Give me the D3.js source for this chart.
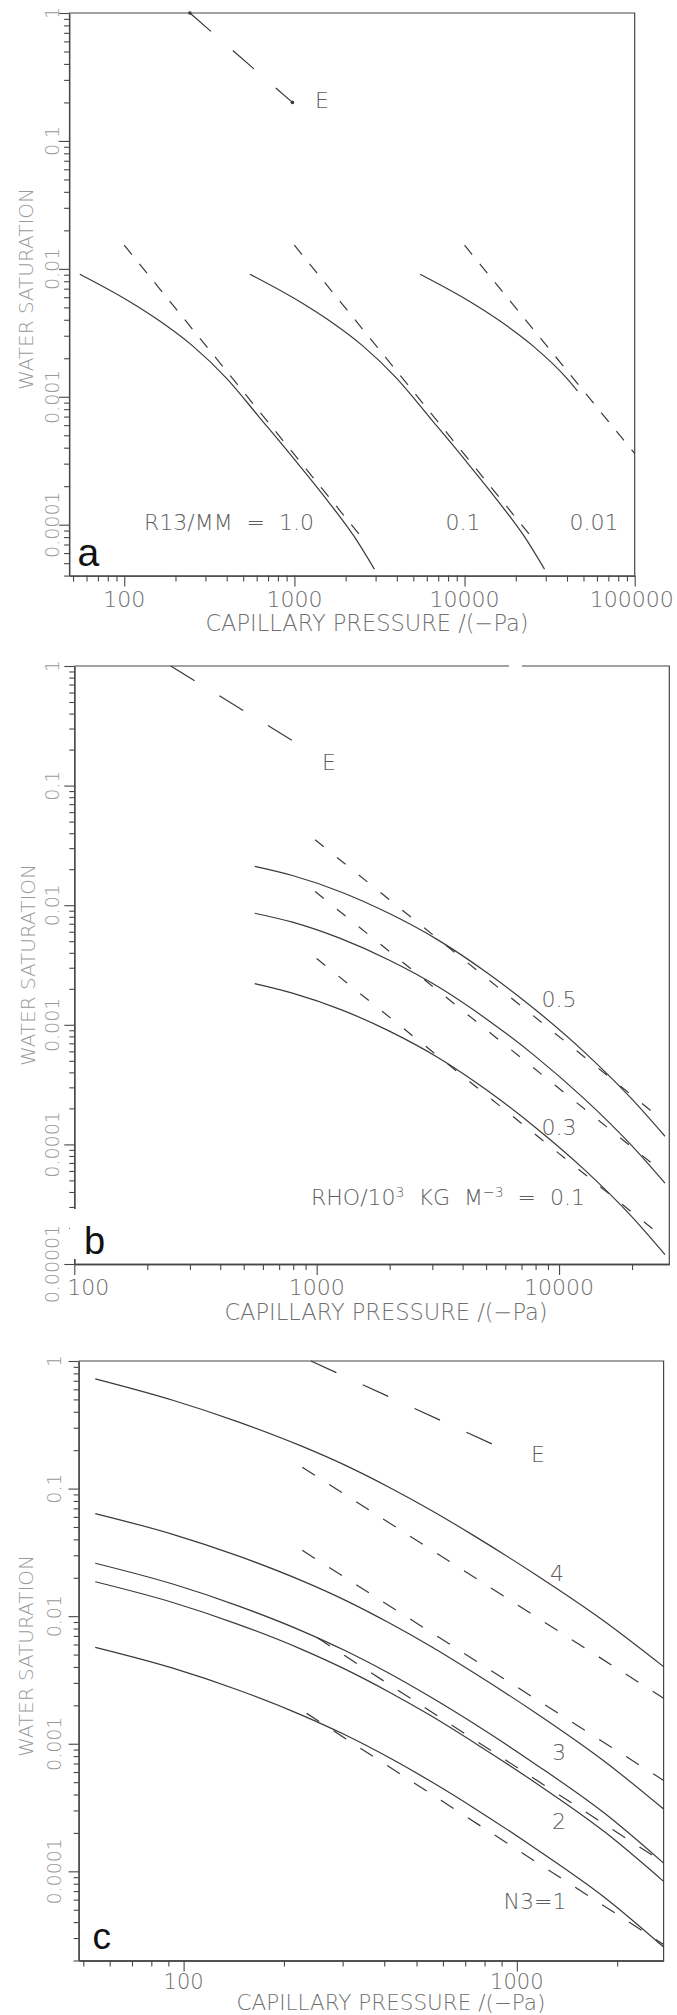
<!DOCTYPE html>
<html><head><meta charset="utf-8">
<script src="https://cdn.jsdelivr.net/npm/d3@7/dist/d3.min.js"></script>
<style>
body{margin:0;background:#fff}
svg{display:block}
text{font-family:"DejaVu Sans","Liberation Sans",sans-serif;font-weight:200}
</style></head><body>
<svg id="chart" width="677" height="2015"></svg>
<script>
// ---------- DATA ----------
// axis ranges
const X_DOMAIN_A = [47.4, 100000], Y_DOMAIN_A = [4e-5, 1];
const X_DOMAIN_B = [100, 28500],   Y_DOMAIN_B = [1e-5, 1];
const X_DOMAIN_C = [48.4, 2757],   Y_DOMAIN_C = [2e-5, 1];
// tick labels
const X_TICKS_A = [100, 1000, 10000, 100000], X_LABELS_A = ["100","1000","10000","100000"];
const X_TICKS_B = [100, 1000, 10000],         X_LABELS_B = ["100","1000","10000"];
const X_TICKS_C = [100, 1000],                X_LABELS_C = ["100","1000"];
const Y_TICKS_A = [1, 0.1, 0.01, 0.001, 0.0001],          Y_LABELS_A = ["1","0.1","0.01","0.001","0.0001"];
const Y_TICKS_B = [1, 0.1, 0.01, 0.001, 0.0001, 0.00001], Y_LABELS_B = ["1","0.1","0.01","0.001","0.0001","0.00001"];
const Y_TICKS_C = [1, 0.1, 0.01, 0.001, 0.0001],          Y_LABELS_C = ["1","0.1","0.01","0.001","0.0001"];

// panel a : R13/MM = 1.0, 0.1, 0.01
const A_SOLID_10  = [[54.8,0.00908],[107.2,0.00556],[158.5,0.00398],[251.2,0.00251],[398.1,0.0014],[631,0.000676],[1000,0.000324],[1585,0.000151],[2239,8.13e-5],[2951,4.49e-5]];
const A_SOLID_01  = [[548,0.00908],[1072,0.00556],[1585,0.00398],[2512,0.00251],[3981,0.0014],[6310,0.000676],[10000,0.000324],[15850,0.000151],[22390,8.13e-5],[29510,4.49e-5]];
const A_SOLID_001 = [[5480,0.00908],[10720,0.00556],[15850,0.00398],[25120,0.00251],[39810,0.0014],[46100,0.00111]];
const A_DASH_10   = [[100,0.0153],[2620,7.3e-5]];
const A_DASH_01   = [[1000,0.0153],[26200,7.3e-5]];
const A_DASH_001  = [[10000,0.0153],[100000,0.00036]];
const A_E         = [[243,1],[973,0.2]];

// panel b : RHO = 0.5, 0.3, 0.1
const B_X        = [555, 794, 1259, 1995, 3162, 5012, 7943, 12590, 19950, 27350];
const B_SOLID_05 = [0.0211, 0.0177, 0.0129, 0.00851, 0.00513, 0.00275, 0.00135, 0.000603, 0.00024, 0.000117];
const B_SOLID_03 = [0.00857, 0.00721, 0.00525, 0.00347, 0.00209, 0.00112, 0.00055, 0.000245, 9.77e-5, 4.75e-5];
const B_SOLID_01 = [0.00221, 0.00184, 0.00134, 0.000885, 0.000533, 0.000286, 0.00014, 6.27e-5, 2.49e-5, 1.2e-5];
const B_DASH_05  = [[986,0.0352],[26800,0.000159]];
const B_DASH_03  = [[986,0.013],[26800,5.86e-5]];
const B_DASH_01  = [[1000,0.00358],[26800,1.68e-5]];
const B_E        = [[250,1],[836,0.223]];

// panel c : N3 = 4, 3, 2, 1
const C_X = [54.3, 92.8, 145, 227, 306, 412, 556, 749, 1137, 1834, 2757];
const C_SOLID_1 = [0.724, 0.492, 0.335, 0.214, 0.152, 0.103, 0.0671, 0.0422, 0.0212, 0.00908, 0.00402];
const C_SOLID_2 = [0.0637, 0.0438, 0.0298, 0.0189, 0.0133, 0.00891, 0.00573, 0.00355, 0.00175, 0.000726, 0.000308];
const C_SOLID_3 = [0.026, 0.01786, 0.0121, 0.00764, 0.00535, 0.00358, 0.00229, 0.00142, 0.000692, 0.000285, 0.000116];
const C_SOLID_4 = [0.0186, 0.0128, 0.00867, 0.00547, 0.00383, 0.00256, 0.00164, 0.00101, 0.000495, 0.000204, 8.34e-5];
const C_SOLID_5 = [0.00569, 0.00391, 0.00265, 0.00167, 0.00117, 0.000783, 0.000501, 0.00031, 0.000151, 6.24e-5, 2.55e-5];
const C_DASH_A = [[227,0.147],[2757,0.00227]];
const C_DASH_B = [[227,0.0328],[2757,0.000516]];
const C_DASH_C = [[252,0.00676],[2757,0.000117]];
const C_DASH_D = [[234,0.00173],[2757,2.67e-5]];
const C_E      = [[241,1],[896,0.208]];

// ---------- DRAWING ----------
const svg = d3.select("#chart");
const INK = "#3a3a3a", AX = "#474747";
const isMajor = v => Math.abs(Math.log10(v) - Math.round(Math.log10(v))) < 1e-9;
const zipXY = (xs, ys) => xs.map((xv, i) => [xv, ys[i]]);

function panel(cfg) {
  const x = d3.scaleLog().domain(cfg.xDomain).range([cfg.left, cfg.right]);
  const y = d3.scaleLog().domain(cfg.yDomain).range([cfg.bottom, cfg.top]);
  const g = svg.append("g");

  g.append("path")
    .attr("d", `M${cfg.left},${cfg.top}H${cfg.right}V${cfg.bottom}`)
    .attr("fill", "none").attr("stroke", AX).attr("stroke-width", 1.2);

  const style = sel => {
    sel.selectAll("path.domain").attr("stroke", AX).attr("stroke-width", 1.3);
    sel.selectAll(".tick line").attr("stroke", AX).attr("stroke-width", 1.1);
    sel.selectAll("text").remove();
  };
  const xMinor = x.ticks().filter(v => !isMajor(v));
  const yMinor = y.ticks().filter(v => !isMajor(v));
  g.append("g").attr("transform", `translate(0,${cfg.bottom})`)
    .call(d3.axisBottom(x).tickValues(xMinor).tickSize(6).tickSizeOuter(0).tickFormat(""))
    .call(style);
  g.append("g").attr("transform", `translate(0,${cfg.bottom})`)
    .call(d3.axisBottom(x).tickValues(cfg.xTicks).tickSize(11).tickSizeOuter(0).tickFormat(""))
    .call(style);
  g.append("g").attr("transform", `translate(${cfg.left},0)`)
    .call(d3.axisLeft(y).tickValues(yMinor).tickSize(5).tickSizeOuter(0).tickFormat(""))
    .call(style);
  g.append("g").attr("transform", `translate(${cfg.left},0)`)
    .call(d3.axisLeft(y).tickValues(cfg.yTicks).tickSize(10).tickSizeOuter(0).tickFormat(""))
    .call(style);

  cfg.xTicks.forEach((v, i) => {
    g.append("text").attr("x", x(v) + (cfg.xShift ? cfg.xShift[i] : 0)).attr("y", cfg.xLabelY)
      .attr("text-anchor", "middle").attr("font-size", cfg.xTickSize || 22).attr("fill", "#6c6c6c")
      .text(cfg.xLabels[i]);
  });
  cfg.yTicks.forEach((v, i) => {
    g.append("text").attr("transform", `translate(${cfg.yLabelX},${y(v)}) rotate(-90)`)
      .attr("dy", "0.36em").attr("text-anchor", "middle").attr("font-size", 19).attr("fill", "#999")
      .text(cfg.yLabels[i]);
  });
  g.append("text").attr("x", cfg.xTitle[0]).attr("y", cfg.xTitle[1])
    .attr("text-anchor", "middle").attr("font-size", cfg.xTitleSize || 23).attr("fill", "#707070")
    .text("CAPILLARY PRESSURE /(\u2212Pa)");
  g.append("text").attr("transform", `translate(${cfg.yTitle[0]},${cfg.yTitle[1]}) rotate(-90)`)
    .attr("dy", "0.36em").attr("text-anchor", "middle").attr("font-size", 20).attr("fill", "#999")
    .text("WATER SATURATION");

  const smooth = d3.line().x(d => x(d[0])).y(d => y(d[1])).curve(d3.curveMonotoneX);
  const straight = d3.line().x(d => x(d[0])).y(d => y(d[1]));
  cfg.solids.forEach(s => g.append("path").attr("d", smooth(s)).attr("fill", "none")
    .attr("stroke", INK).attr("stroke-width", 1.2));
  cfg.dashes.forEach(s => g.append("path").attr("d", straight(s)).attr("fill", "none")
    .attr("stroke", INK).attr("stroke-width", 1.2).attr("stroke-dasharray", cfg.dash));
  g.append("path").attr("d", straight(cfg.e)).attr("fill", "none")
    .attr("stroke", INK).attr("stroke-width", 1.2).attr("stroke-dasharray", "28,29");
  if (cfg.eDots) cfg.e.forEach(d => g.append("circle").attr("cx", x(d[0])).attr("cy", y(d[1]))
    .attr("r", 1.8).attr("fill", INK));

  cfg.labels.forEach(l => {
    const t = g.append("text").attr("x", l[0]).attr("y", l[1]).attr("dy", "0.36em")
      .attr("text-anchor", "middle").attr("font-size", 22).attr("fill", "#5e5e5e")
      .style("white-space", "pre");
    if (Array.isArray(l[2])) {
      l[2].forEach(p => t.append("tspan").attr("dy", p[1]).attr("font-size", p[2] || null).text(p[0]));
    } else t.text(l[2]);
  });
  return {g, x, y};
}

// panel a
const pa = panel({
  left: 69.1, right: 634.7, top: 13, bottom: 575.6,
  xDomain: X_DOMAIN_A, yDomain: Y_DOMAIN_A,
  xTicks: X_TICKS_A, xLabels: X_LABELS_A, yTicks: Y_TICKS_A, yLabels: Y_LABELS_A,
  xShift: [0, 0, 0, -3],
  xLabelY: 607, yLabelX: 52, xTitle: [367, 631], xTitleSize: 22.5, yTitle: [26, 289],
  solids: [A_SOLID_10, A_SOLID_01, A_SOLID_001],
  dashes: [A_DASH_10, A_DASH_01, A_DASH_001], dash: "12,12",
  e: A_E, eDots: true,
  labels: [[322, 100, "E"], [229, 522.5, "R13/MM  =  1.0"], [463, 522.5, "0.1"], [594, 522.5, "0.01"]]
});
pa.g.append("text").attr("x", 77.5).attr("y", 565.5).attr("font-size", 39).attr("font-weight", 700)
  .attr("fill", "#111").style("font-family", "'Liberation Sans',Arial,sans-serif").text("a");

// panel b
const pb = panel({
  left: 74.3, right: 669.3, top: 666, bottom: 1264,
  xDomain: X_DOMAIN_B, yDomain: Y_DOMAIN_B,
  xTicks: X_TICKS_B, xLabels: X_LABELS_B, yTicks: Y_TICKS_B, yLabels: Y_LABELS_B,
  xShift: [14, 0, 0],
  xLabelY: 1295, yLabelX: 52, xTitle: [386, 1320], xTitleSize: 22.5, yTitle: [28, 965],
  solids: [zipXY(B_X, B_SOLID_05), zipXY(B_X, B_SOLID_03), zipXY(B_X, B_SOLID_01)],
  dashes: [B_DASH_05, B_DASH_03, B_DASH_01], dash: "11,17",
  e: B_E, eDots: false,
  labels: [[329, 762, "E"], [559, 999.5, "0.5"], [559, 1127, "0.3"],
           [448, 1204.6, [["RHO/10", 0], ["3", -8, 14], ["  KG  M", 8], ["\u22123", -8, 14], ["  =  0.1", 8]]]]
});
pb.g.append("rect").attr("x", 509).attr("y", 660).attr("width", 13).attr("height", 12).attr("fill", "#fff");
pb.g.append("rect").attr("x", 70).attr("y", 1209).attr("width", 48).attr("height", 50).attr("fill", "#fff");
pb.g.append("text").attr("x", 84).attr("y", 1254).attr("font-size", 38).attr("font-weight", 700)
  .attr("fill", "#111").style("font-family", "'Liberation Sans',Arial,sans-serif").text("b");

// panel c
const pc = panel({
  left: 78.6, right: 663.6, top: 1361, bottom: 1960.5,
  xDomain: X_DOMAIN_C, yDomain: Y_DOMAIN_C,
  xTicks: X_TICKS_C, xLabels: X_LABELS_C, yTicks: Y_TICKS_C, yLabels: Y_LABELS_C,
  xLabelY: 1989, xTickSize: 21, yLabelX: 54, xTitle: [391, 2010], xTitleSize: 21.5, yTitle: [26, 1656],
  solids: [C_SOLID_1, C_SOLID_2, C_SOLID_3, C_SOLID_4, C_SOLID_5].map(ys => zipXY(C_X, ys)),
  dashes: [C_DASH_A, C_DASH_B, C_DASH_C, C_DASH_D], dash: "15,17",
  e: C_E, eDots: false,
  labels: [[538, 1454, "E"], [557, 1573, "4"], [559, 1752, "3"], [559, 1821, "2"], [535, 1901, "N3=1"]]
});
pc.g.append("text").attr("x", 92.5).attr("y", 1949).attr("font-size", 37).attr("font-weight", 700)
  .attr("fill", "#111").style("font-family", "'Liberation Sans',Arial,sans-serif").text("c");
</script>
</body></html>
